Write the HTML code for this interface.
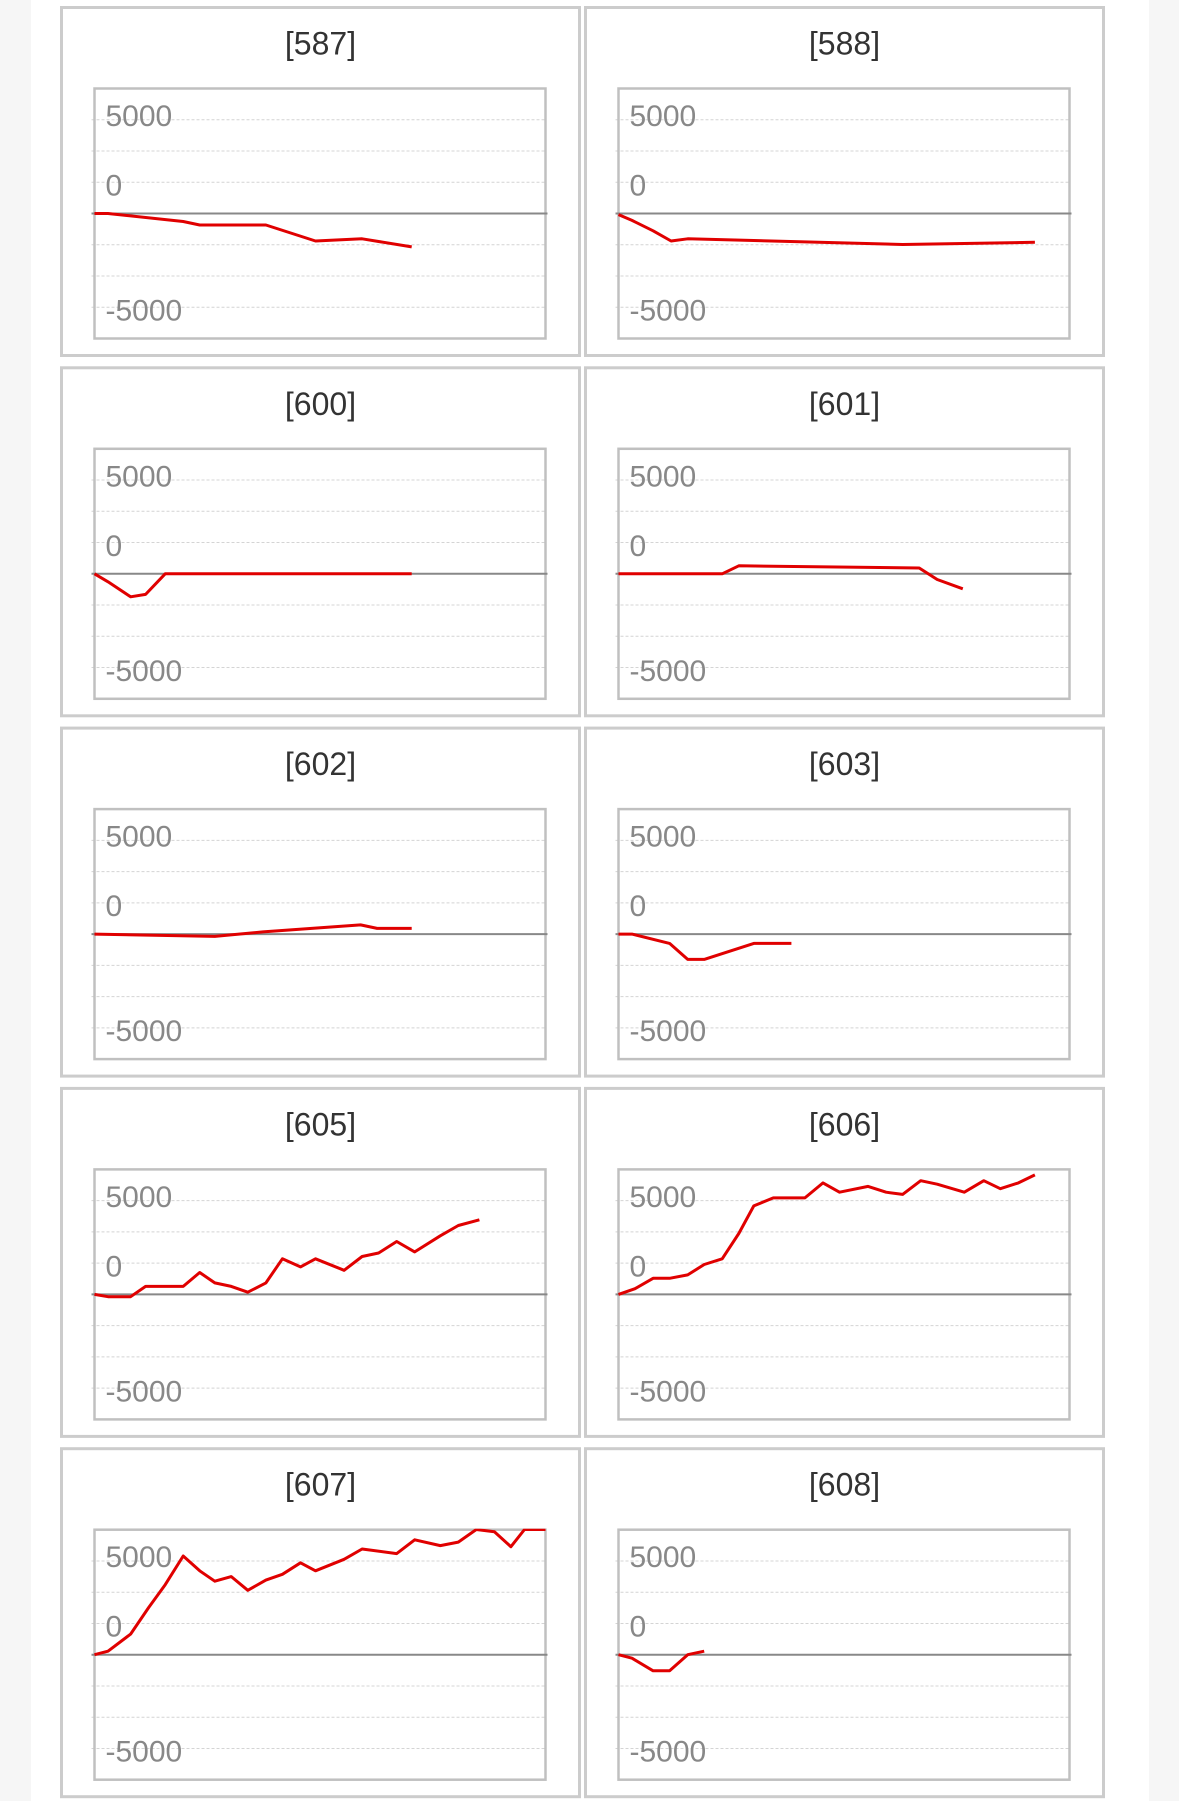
<!DOCTYPE html>
<html><head><meta charset="utf-8">
<style>
html,body{margin:0;padding:0;}
body{width:1179px;height:1801px;background:#f6f6f6;position:relative;overflow:hidden;font-family:"Liberation Sans","Noto Sans CJK JP",sans-serif;}
#content{position:absolute;left:31px;top:0;width:1118px;height:1801px;background:#fff;}
svg{position:absolute;left:0;top:0;}
</style></head>
<body>
<div id="content"></div>
<svg id="chart" width="1179" height="1801"></svg>
<script>
const titles = ["[587]","[588]","[600]","[601]","[602]","[603]","[605]","[606]","[607]","[608]"];
const xs587 = [0,0.9,5.9,7.0,11.4,14.7,17.8,21.1];
const ys587 = [0,0,-640,-920,-920,-2200,-2020,-2670];
const xs588 = [0,0.9,2.3,3.5,4.6,18.9,27.7];
const ys588 = [-90,-550,-1380,-2200,-2020,-2480,-2300];
const xs600 = [0,0.9,2.4,3.4,4.7,21.1];
const ys600 = [0,-640,-1840,-1650,0,0];
const xs601 = [0,6.9,8.0,20.0,21.2,22.9];
const ys601 = [0,0,640,460,-460,-1200];
const xs602 = [0,8.0,11.2,17.7,18.8,21.1];
const ys602 = [0,-180,180,740,460,460];
const xs603 = [0,0.9,3.4,4.6,5.7,9.0,11.5];
const ys603 = [0,0,-740,-2020,-2020,-740,-740];
const xs605 = [0,0.9,2.4,3.4,5.9,7.0,8.0,9.1,10.2,11.4,12.5,13.7,14.7,16.6,17.8,18.9,20.1,21.3,23.0,24.2,25.6];
const ys605 = [0,-180,-180,640,640,1750,920,640,180,920,2850,2200,2850,1930,3030,3310,4230,3400,4690,5510,5970];
const xs606 = [0,1.1,2.3,3.4,4.6,5.7,6.9,8.0,9.0,10.3,12.4,13.6,14.7,16.6,17.8,18.9,20.1,21.2,23.0,24.3,25.4,26.6,27.7];
const ys606 = [0,460,1290,1290,1560,2390,2850,4870,7080,7720,7720,8920,8180,8640,8180,8000,9100,8820,8180,9100,8460,8920,9560];
const xs607 = [0,0.9,2.4,3.6,4.7,5.9,7.0,8.0,9.1,10.2,11.4,12.5,13.7,14.7,16.6,17.8,20.1,21.3,23.0,24.2,25.4,26.6,27.7,28.6,30.0];
const ys607 = [0,280,1650,3770,5600,7900,6710,5880,6250,5150,5970,6430,7350,6710,7630,8460,8090,9190,8730,9010,10020,9830,8640,10020,10020];
const xs608 = [0,0.9,2.3,3.4,4.6,5.7];
const ys608 = [0,-280,-1290,-1290,0,280];
const seriesX = [xs587,xs588,xs600,xs601,xs602,xs603,xs605,xs606,xs607,xs608];
const seriesY = [ys587,ys588,ys600,ys601,ys602,ys603,ys605,ys606,ys607,ys608];
const yLabels = ["5000","0","-5000"];

const NS = "http://www.w3.org/2000/svg";
const svg = document.getElementById('chart');
function mk(tag, attrs, parent){
  const e = document.createElementNS(NS, tag);
  for (const k in attrs) e.setAttribute(k, attrs[k]);
  (parent||svg).appendChild(e);
  return e;
}
const PW = 522, PH = 348, ROW = 360.3;
const panelX = [61.5, 585.5];
const BOXW = 451, BOXH = 250, BOXDX = 33, BOXDY = 81;
const XMAX = 30, YMAX = 10000;

titles.forEach((t, i) => {
  const px = panelX[i % 2], py = 7.5 + Math.floor(i / 2) * ROW;
  const g = mk('g', {});
  
  
  const r = mk('rect', {x:px, y:py, width:PW-4, height:PH, fill:'#fff', stroke:'#cccccc', 'stroke-width':3}, g);
  
  
  const tt = mk('text', {x:px+(PW-4)/2, y:py+47, 'text-anchor':'middle', 'font-size':32, fill:'#333'}, g);
  tt.textContent = t;
  
  
  const bx = px + BOXDX, by = py + BOXDY;
  const xScale = v => bx + v / XMAX * BOXW;
  const yScale = v => by + BOXH/2 - v / YMAX * (BOXH/2);
  [7500,5000,2500,-2500,-5000,-7500].forEach(v => {
    const l = mk('line', {x1:bx-3, x2:bx+BOXW, y1:yScale(v), y2:yScale(v), stroke:'#d4d4d4', 'stroke-width':1, 'stroke-dasharray':'3,2'}, g);
    
    
  });
  const box = mk('rect', {x:bx, y:by, width:BOXW, height:BOXH, fill:'none', stroke:'#c0c0c0', 'stroke-width':2.5}, g);
  
  
  const z = mk('line', {x1:bx-3, x2:bx+BOXW+2, y1:yScale(0), y2:yScale(0), stroke:'#888', 'stroke-width':2}, g);
  
  
  const labY = [by+37.5, by+107, by+232];
  yLabels.forEach((lb, k) => {
    const tx = mk('text', {x:bx+11, y:labY[k], 'font-size':30, fill:'#888'}, g);
    tx.textContent = lb;
    
    
  });
  const clipId = 'clip' + i;
  const cp = mk('clipPath', {id:clipId}, g);
  mk('rect', {x:bx-4, y:by-1, width:BOXW+8, height:BOXH+2}, cp);
  const xsArr = seriesX[i], ysArr = seriesY[i];
  const pts = xsArr.map((x, k) => xScale(x).toFixed(1) + ',' + yScale(ysArr[k]).toFixed(1)).join(' ');
  const pl = mk('polyline', {points:pts, fill:'none', stroke:'#e00000', 'stroke-width':3, 'stroke-linejoin':'round', 'clip-path':'url(#'+clipId+')'}, g);
  
  
});
</script>
</body></html>
